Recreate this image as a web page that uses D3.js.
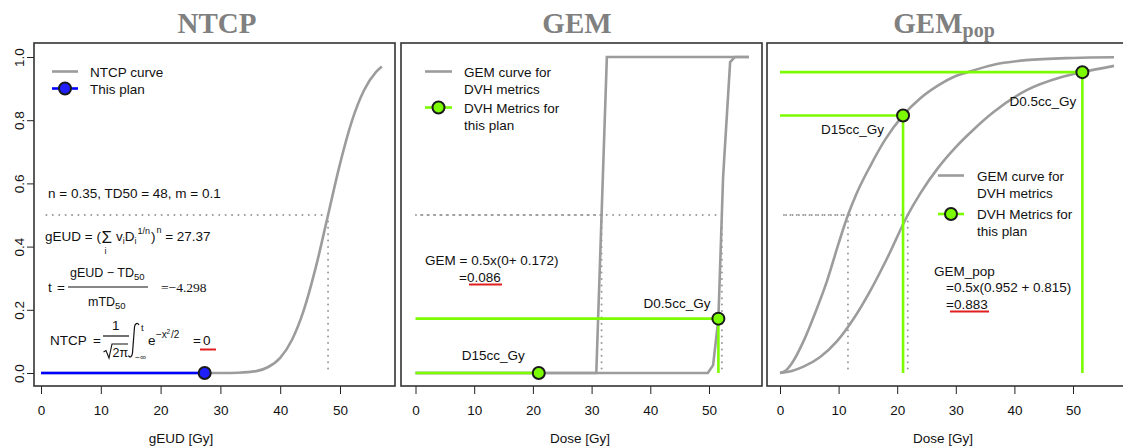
<!DOCTYPE html>
<html>
<head>
<meta charset="utf-8">
<script src="https://cdn.jsdelivr.net/npm/d3@7"></script>
<style>
  body { margin: 0; background: #fff; }
</style>
</head>
<body>
<div id="chart"></div>
<script>
const WIDTH = 1123;
const HEIGHT = 446;
const SANS = "'Liberation Sans', Arial, sans-serif";
const SERIF = "'Liberation Serif', 'Times New Roman', serif";
const CURVE = '#9c9c9c';
const GREEN = '#7CFC00';

// ticks shared by the panels
const doseTicks = [0, 10, 20, 30, 40, 50];
const probTicks = [0, 0.2, 0.4, 0.6, 0.8, 1.0];

// NTCP panel
const ntcpCurveDose = [0, 27.37, 30, 33, 36, 38, 40, 42, 44, 46, 48, 50, 52, 54, 56, 57];
const ntcpCurveProb = [0, 0, 0.0001, 0.001, 0.006, 0.019, 0.048, 0.106, 0.202, 0.338, 0.5, 0.662, 0.798, 0.894, 0.952, 0.97];
const ntcpTD50 = 48;
const planGEUD = 27.37;
const planNTCP = 0;

// GEM panel (one curve per DVH metric)
const metricNames = ['D15cc_Gy', 'D0.5cc_Gy'];
const gemD15Dose = [0, 30.8, 32.6, 56.8];
const gemD15Prob = [0, 0, 1, 1];
const gemD05Dose = [0, 49.8, 50.7, 51.6, 52.4, 53.6, 54.4, 56.8];
const gemD05Prob = [0, 0, 0.025, 0.172, 0.62, 0.984, 1, 1];
const gemMetricDose = [21.0, 51.6];
const gemMetricValue = [0, 0.172];
const gemHalfDose = [31.7, 52.2];

// GEM_pop panel
const popD15Dose = [0, 1, 2, 4, 6, 8, 10, 11.6, 13, 15.4, 18, 21, 24, 27, 30, 32, 36.3, 42, 50, 57];
const popD15Prob = [0, 0.008, 0.03, 0.1, 0.19, 0.29, 0.41, 0.5, 0.565, 0.655, 0.74, 0.815, 0.87, 0.91, 0.94, 0.952, 0.975, 0.99, 0.997, 0.999];
const popD05Dose = [0, 2, 4, 6.8, 9.7, 12.5, 15.4, 18.2, 21.8, 24, 27, 30, 33, 36.4, 42.1, 47.8, 51.6, 57];
const popD05Prob = [0, 0.006, 0.02, 0.05, 0.1, 0.17, 0.26, 0.36, 0.5, 0.57, 0.65, 0.715, 0.77, 0.825, 0.895, 0.935, 0.952, 0.972];
const popMetricDose = [21.0, 51.6];
const popMetricValue = [0.815, 0.952];
const popHalfDose = [11.6, 21.8];

const zip = (xs, ys) => xs.map((d, i) => [d, ys[i]]);

const svg = d3
  .select('#chart')
  .append('svg')
  .attr('width', WIDTH)
  .attr('height', HEIGHT)
  .style('font-family', SANS);

function text(g, x, y, str, size = 13.5, extra = {}) {
  const t = g
    .append('text')
    .attr('x', x)
    .attr('y', y)
    .attr('font-size', size)
    .attr('fill', extra.fill || '#111')
    .text(str);
  if (extra.anchor) t.attr('text-anchor', extra.anchor);
  if (extra.family) t.attr('font-family', extra.family);
  return t;
}

// text made of pieces: [string, size, dx, dy]
function rich(g, x, y, parts) {
  const t = g.append('text').attr('x', x).attr('y', y).attr('fill', '#111');
  parts.forEach(([s, size, dx, dy]) => {
    t.append('tspan')
      .attr('font-size', size)
      .attr('dx', dx || 0)
      .attr('dy', dy || 0)
      .text(s);
  });
  return t;
}

function makePanel(cfg) {
  const x = d3.scaleLinear().domain([0, 50]).range([cfg.x0, cfg.x50]);
  const y = d3.scaleLinear().domain([0, 1]).range([373, 57]);
  const g = svg.append('g');

  const xAxis = d3.axisBottom(x).tickValues(doseTicks).tickSize(8).tickPadding(11).tickFormat(d3.format('d'));
  g.append('g')
    .attr('transform', 'translate(0,386)')
    .call(xAxis)
    .call((a) => a.select('.domain').remove())
    .attr('font-family', SANS)
    .attr('font-size', 13.5)
    .call((a) => a.selectAll('line').attr('stroke', '#222'))
    .call((a) => a.selectAll('text').attr('fill', '#111'));

  text(g, cfg.xlabX, 443, cfg.xlab, 13.5, { anchor: 'middle' });
  return { g, x, y };
}

function frame(g, left, right) {
  g.append('rect')
    .attr('x', left)
    .attr('y', 43)
    .attr('width', right - left)
    .attr('height', 343)
    .attr('fill', 'none')
    .attr('stroke', '#333')
    .attr('stroke-width', 1.6);
}

function dotted(g, pts) {
  g.append('path')
    .attr('d', d3.line()(pts))
    .attr('fill', 'none')
    .attr('stroke', '#999')
    .attr('stroke-width', 2)
    .attr('stroke-linecap', 'round')
    .attr('stroke-dasharray', '0,6.4');
}

function curve(p, pts, smooth) {
  const ln = d3.line().x((d) => p.x(d[0])).y((d) => p.y(d[1]));
  if (smooth) ln.curve(d3.curveMonotoneX);
  p.g.append('path')
    .attr('d', ln(pts))
    .attr('fill', 'none')
    .attr('stroke', CURVE)
    .attr('stroke-width', 2.6);
}

function seg(g, x1, y1, x2, y2, color, w = 2.6) {
  g.append('line')
    .attr('x1', x1).attr('y1', y1).attr('x2', x2).attr('y2', y2)
    .attr('stroke', color)
    .attr('stroke-width', w);
}

function dot(g, cx, cy, fill) {
  g.append('circle')
    .attr('cx', cx).attr('cy', cy).attr('r', 6)
    .attr('fill', fill)
    .attr('stroke', '#1a1a1a')
    .attr('stroke-width', 2);
}

function title(g, cx, main, sub) {
  const t = g.append('text')
    .attr('x', cx)
    .attr('y', 33)
    .attr('text-anchor', 'middle')
    .attr('font-family', SERIF)
    .attr('font-weight', 'bold')
    .attr('font-size', 29)
    .attr('fill', '#808080')
    .text(main);
  if (sub) t.append('tspan').attr('font-size', 20).attr('dy', 4).text(sub);
}

// ---------------- NTCP ----------------
function drawNTCP() {
  const p = makePanel({ x0: 41, x50: 340, xlab: 'gEUD [Gy]', xlabX: 181 });
  const { g, x, y } = p;

  const yAxis = d3.axisLeft(y).tickValues(probTicks).tickSize(7).tickFormat(d3.format('.1f'));
  g.append('g')
    .attr('transform', 'translate(34,0)')
    .call(yAxis)
    .call((a) => a.select('.domain').remove())
    .attr('font-family', SANS)
    .attr('font-size', 13.5)
    .call((a) => a.selectAll('line').attr('stroke', '#222'))
    .call((a) =>
      a.selectAll('text')
        .attr('fill', '#111')
        .attr('text-anchor', 'middle')
        .attr('transform', 'rotate(-90)')
        .attr('x', 0)
        .attr('y', -10.5)
        .attr('dy', 0)
    );

  title(g, 217, 'NTCP');

  curve(p, zip(ntcpCurveDose, ntcpCurveProb), true);
  dotted(g, [[x(ntcpTD50), y(0.5)], [x(0), y(0.5)]]);
  dotted(g, [[x(ntcpTD50), y(0.5)], [x(ntcpTD50), y(0)]]);

  seg(g, x(0), y(planNTCP), x(planGEUD), y(planNTCP), '#0000ff');
  dot(g, x(planGEUD), y(planNTCP), '#1f1fff');

  // legend
  seg(g, 52, 71.5, 78, 71.5, CURVE);
  text(g, 90, 76.5, 'NTCP curve');
  seg(g, 52, 88.5, 78, 88.5, '#0000ff');
  dot(g, 65, 88.5, '#1f1fff');
  text(g, 90, 93.5, 'This plan');

  // formulas
  text(g, 48, 198, 'n = 0.35, TD50 = 48, m = 0.1');

  rich(g, 45, 241, [
    ['gEUD = (', 13.5],
    ['\u03A3', 17, 0.5, 2],
    ['v', 13.5, 4, -2],
    ['i', 9, 0, 3],
    ['D', 13.5, 0, -3],
    ['i', 9, 0, 3],
    ['1/n', 9, 1, -10],
    [')', 13.5, 1, 7],
    ['n', 9, 1, -8],
    [' = 27.37', 13.5, 0, 8],
  ]);
  text(g, 104.5, 254, 'i', 9);

  text(g, 48, 292, 't');
  text(g, 57, 292, '=');
  seg(g, 68, 287, 148, 287, '#111', 1.2);
  rich(g, 70, 277, [['gEUD \u2212 TD', 12.5], ['50', 9.5, 0, 3]]);
  rich(g, 88, 306, [['mTD', 12.5], ['50', 9.5, 0, 3]]);
  text(g, 161, 292, '=\u22124.298', 13.5, { family: SERIF });

  text(g, 50, 345, 'NTCP');
  text(g, 93, 345, '=');
  text(g, 112, 330, '1');
  seg(g, 103, 336, 129, 336, '#111', 1.2);
  g.append('path')
    .attr('d', 'M103.5,352 L106,350.5 L109,358 L112,344 L128,344')
    .attr('fill', 'none')
    .attr('stroke', '#111')
    .attr('stroke-width', 1.1);
  text(g, 112.5, 357, '2\u03C0', 12.5);
  // integral sign
  g.append('path')
    .attr('d', 'M139,325 C137.5,322.5 135,323 134.5,327 L132.5,353 C132,357.5 129.5,358 128.5,355.5')
    .attr('fill', 'none')
    .attr('stroke', '#111')
    .attr('stroke-width', 1.2);
  text(g, 141, 331, 't', 9.5);
  text(g, 135, 360, '\u2212\u221E', 8.5);
  text(g, 148, 345, 'e');
  text(g, 156, 338, '\u2212x', 10);
  text(g, 166.5, 334, '2', 6.5);
  text(g, 171, 338, '/2', 10);
  text(g, 193, 345, '=');
  text(g, 203, 345, '0');
  seg(g, 200, 349.5, 216, 349.5, '#e02020', 2);

  frame(g, 34, 395);
}

// ---------------- GEM ----------------
function drawGEM() {
  const p = makePanel({ x0: 415.5, x50: 709, xlab: 'Dose [Gy]', xlabX: 580 });
  const { g, x, y } = p;
  title(g, 577, 'GEM');

  curve(p, zip(gemD15Dose, gemD15Prob), false);
  curve(p, zip(gemD05Dose, gemD05Prob), false);

  gemHalfDose.forEach((d) => {
    dotted(g, [[x(d), y(0.5)], [x(0), y(0.5)]]);
    dotted(g, [[x(d), y(0.5)], [x(d), y(0)]]);
  });

  const labelOffsets = [[-14, -13], [-8, -11]];
  gemMetricDose.forEach((d, i) => {
    const v = gemMetricValue[i];
    seg(g, x(0), y(v), x(d), y(v), GREEN);
    seg(g, x(d), y(v), x(d), y(0), GREEN);
  });
  gemMetricDose.forEach((d, i) => {
    const v = gemMetricValue[i];
    dot(g, x(d), y(v), GREEN);
    text(g, x(d) + labelOffsets[i][0], y(v) + labelOffsets[i][1], metricNames[i], 13.5, { anchor: 'end' });
  });

  // legend
  seg(g, 425, 71.5, 452, 71.5, CURVE);
  text(g, 464, 76.5, 'GEM curve for');
  text(g, 464, 93.5, 'DVH metrics');
  seg(g, 425, 107.5, 452, 107.5, GREEN);
  dot(g, 438.5, 107.5, GREEN);
  text(g, 464, 112.5, 'DVH Metrics for');
  text(g, 464, 129.5, 'this plan');

  text(g, 425, 265, 'GEM = 0.5x(0+ 0.172)');
  text(g, 459, 281.5, '=0.086');
  seg(g, 469, 284.5, 502, 284.5, '#e02020', 2);

  frame(g, 401, 762);
}

// ---------------- GEM_pop ----------------
function drawPop() {
  const p = makePanel({ x0: 780, x50: 1073, xlab: 'Dose [Gy]', xlabX: 943 });
  const { g, x, y } = p;
  title(g, 944, 'GEM', 'pop');

  curve(p, zip(popD15Dose, popD15Prob), true);
  curve(p, zip(popD05Dose, popD05Prob), true);

  popHalfDose.forEach((d) => {
    dotted(g, [[x(d), y(0.5)], [x(0), y(0.5)]]);
    dotted(g, [[x(d), y(0.5)], [x(d), y(0)]]);
  });

  const labelOffsets = [[-19, 19], [-6, 34]];
  popMetricDose.forEach((d, i) => {
    const v = popMetricValue[i];
    seg(g, x(0), y(v), x(d), y(v), GREEN);
    seg(g, x(d), y(v), x(d), y(0), GREEN);
  });
  popMetricDose.forEach((d, i) => {
    const v = popMetricValue[i];
    dot(g, x(d), y(v), GREEN);
    text(g, x(d) + labelOffsets[i][0], y(v) + labelOffsets[i][1], metricNames[i], 13.5, { anchor: 'end' });
  });

  // legend
  seg(g, 938, 175.5, 964, 175.5, CURVE);
  text(g, 977, 180.5, 'GEM curve for');
  text(g, 977, 197.5, 'DVH metrics');
  seg(g, 938, 214, 964, 214, GREEN);
  dot(g, 951, 214, GREEN);
  text(g, 977, 219, 'DVH Metrics for');
  text(g, 977, 236, 'this plan');

  text(g, 934, 275.5, 'GEM_pop');
  text(g, 946, 292, '=0.5x(0.952 + 0.815)');
  text(g, 946, 308.5, '=0.883');
  seg(g, 950, 311.5, 989, 311.5, '#e02020', 2);

  frame(g, 767, 1128);
}

drawNTCP();
drawGEM();
drawPop();
</script>
</body>
</html>
